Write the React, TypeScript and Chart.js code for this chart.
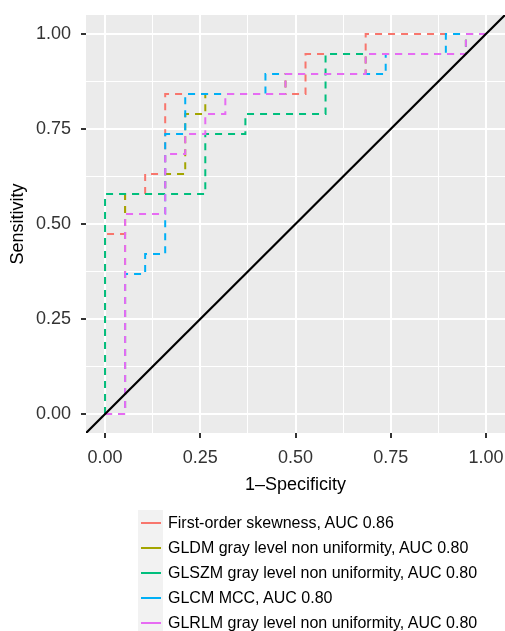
import React, { useEffect, useRef } from 'react';
import { Chart, registerables } from 'chart.js';

Chart.register(...registerables);

// ---- data -------------------------------------------------------------
const seriesNames = [
  'First-order skewness, AUC 0.86',
  'GLDM gray level non uniformity, AUC 0.80',
  'GLSZM gray level non uniformity, AUC 0.80',
  'GLCM MCC, AUC 0.80',
  'GLRLM gray level non uniformity, AUC 0.80',
];
const seriesColors = ['#F8766D', '#A3A500', '#00BF7D', '#00B0F6', '#E76BF3'];

// ROC curve vertices (1 - specificity, sensitivity)
const skewFpr = [0, 0, 0.0526, 0.0526, 0.1053, 0.1053, 0.1579, 0.1579, 0.5263, 0.5263, 0.6842, 0.6842, 1];
const skewTpr = [0, 0.4737, 0.4737, 0.5789, 0.5789, 0.6316, 0.6316, 0.8421, 0.8421, 0.9474, 0.9474, 1, 1];

const gldmFpr = [0, 0.0526, 0.0526, 0.1579, 0.1579, 0.2105, 0.2105, 0.2632, 0.2632, 0.4737, 0.4737, 0.6842, 0.6842, 0.9474, 0.9474, 1];
const gldmTpr = [0, 0, 0.5789, 0.5789, 0.6316, 0.6316, 0.7895, 0.7895, 0.8421, 0.8421, 0.8947, 0.8947, 0.9474, 0.9474, 1, 1];

const glszmFpr = [0, 0, 0.2632, 0.2632, 0.3684, 0.3684, 0.5789, 0.5789, 0.9474, 0.9474, 1];
const glszmTpr = [0, 0.5789, 0.5789, 0.7368, 0.7368, 0.7895, 0.7895, 0.9474, 0.9474, 1, 1];

const glcmFpr = [0, 0.0526, 0.0526, 0.1053, 0.1053, 0.1579, 0.1579, 0.2105, 0.2105, 0.4211, 0.4211, 0.7368, 0.7368, 0.8947, 0.8947, 1];
const glcmTpr = [0, 0, 0.3684, 0.3684, 0.4211, 0.4211, 0.7368, 0.7368, 0.8421, 0.8421, 0.8947, 0.8947, 0.9474, 0.9474, 1, 1];

const glrlmFpr = [0, 0.0526, 0.0526, 0.1579, 0.1579, 0.2105, 0.2105, 0.2632, 0.2632, 0.3158, 0.3158, 0.4737, 0.4737, 0.6842, 0.6842, 0.9474, 0.9474, 1];
const glrlmTpr = [0, 0, 0.5263, 0.5263, 0.6842, 0.6842, 0.7368, 0.7368, 0.7895, 0.7895, 0.8421, 0.8421, 0.8947, 0.8947, 0.9474, 0.9474, 1, 1];

const seriesFpr = [skewFpr, gldmFpr, glszmFpr, glcmFpr, glrlmFpr];
const seriesTpr = [skewTpr, gldmTpr, glszmTpr, glcmTpr, glrlmTpr];

// reference diagonal
const diagonalX = [-0.05, 1.05];
const diagonalY = [-0.05, 1.05];

// axes
const axisMin = -0.05;
const axisMax = 1.05;
const majorTicks = [0, 0.25, 0.5, 0.75, 1];
const majorTickLabels = ['0.00', '0.25', '0.50', '0.75', '1.00'];
const minorTicks = [0.125, 0.375, 0.625, 0.875];
const xTitle = '1\u2013Specificity';
const yTitle = 'Sensitivity';

// ---- helpers ----------------------------------------------------------
const FONT = "'Liberation Sans', Arial, Helvetica, sans-serif";
const majorIndex = (v: number) => majorTicks.findIndex((m) => Math.abs(m - v) < 1e-9);
const isMajor = (ctx: any) => !!ctx && !!ctx.tick && majorIndex(ctx.tick.value) >= 0;

const makeScale = (axis: 'x' | 'y') => ({
  type: 'linear' as const,
  position: axis === 'x' ? ('bottom' as const) : ('left' as const),
  min: axisMin,
  max: axisMax,
  afterBuildTicks: (s: any) => {
    s.ticks = [...majorTicks, ...minorTicks].sort((a, b) => a - b).map((v) => ({ value: v }));
  },
  afterFit: (s: any) => {
    if (axis === 'x') {
      s.height = 66;
      s.paddingLeft = 0;
      s.paddingRight = 0;
    } else {
      s.width = 86;
      s.paddingTop = 0;
      s.paddingBottom = 0;
    }
  },
  border: { display: false },
  grid: {
    color: '#FFFFFF',
    lineWidth: (ctx: any) => (isMajor(ctx) ? 2 : 1),
    drawTicks: true,
    tickLength: 5,
    tickWidth: 2,
    tickColor: (ctx: any) => (isMajor(ctx) ? '#333333' : 'rgba(0,0,0,0)'),
  },
  ticks: {
    autoSkip: false,
    maxRotation: 0,
    minRotation: 0,
    padding: axis === 'x' ? 9 : 10,
    color: '#333333',
    font: { family: FONT, size: 18 },
    callback: (v: any) => {
      const i = majorIndex(Number(v));
      return i >= 0 ? majorTickLabels[i] : '';
    },
  },
  title: {
    display: true,
    text: axis === 'x' ? xTitle : yTitle,
    color: '#000000',
    font: { family: FONT, size: 18 },
    padding: axis === 'x' ? { top: 0, bottom: 3 } : { top: 7, bottom: 0 },
  },
});

const panelBackground = {
  id: 'panelBackground',
  beforeDraw(chart: any) {
    const { ctx, chartArea } = chart;
    ctx.save();
    ctx.fillStyle = '#EBEBEB';
    ctx.fillRect(chartArea.left, chartArea.top, chartArea.right - chartArea.left, chartArea.bottom - chartArea.top);
    ctx.restore();
  },
};

export default function App() {
  const canvasRef = useRef<HTMLCanvasElement>(null);

  useEffect(() => {
    if (!canvasRef.current) return;
    const datasets: any[] = seriesNames.map((name, i) => ({
      label: name,
      data: seriesFpr[i].map((x, j) => ({ x, y: seriesTpr[i][j] })),
      borderColor: seriesColors[i],
      backgroundColor: seriesColors[i],
      borderWidth: 2,
      borderDash: [7, 6],
      borderCapStyle: 'butt',
      pointRadius: 0,
      tension: 0,
      fill: false,
      order: seriesNames.length - i,
    }));
    datasets.push({
      label: 'diagonal',
      data: diagonalX.map((x, j) => ({ x, y: diagonalY[j] })),
      borderColor: '#000000',
      borderWidth: 2.2,
      pointRadius: 0,
      tension: 0,
      fill: false,
      order: 0,
    });

    const chart = new Chart(canvasRef.current, {
      type: 'line',
      data: { datasets },
      options: {
        animation: false,
        responsive: false,
        devicePixelRatio: 1,
        parsing: true,
        layout: { padding: { top: 15, right: 0, bottom: 132, left: 0 } },
        plugins: {
          legend: { display: false },
          tooltip: { enabled: false },
        },
        scales: {
          x: makeScale('x') as any,
          y: makeScale('y') as any,
        },
      },
      plugins: [panelBackground],
    });
    return () => chart.destroy();
  }, []);

  return (
    <div style={{ position: 'absolute', left: 0, top: 0, width: 505, height: 631, background: '#FFFFFF', overflow: 'hidden' }}>
      <canvas ref={canvasRef} width={505} height={631} style={{ position: 'absolute', left: 0, top: 0, display: 'block' }} />
      <div style={{ position: 'absolute', left: 138, top: 510 }}>
        {seriesNames.map((name, i) => (
          <div key={name} style={{ display: 'flex', alignItems: 'center', height: 25 }}>
            <div style={{ width: 25, height: 25, background: '#F2F2F2', position: 'relative', flex: '0 0 auto' }}>
              <div style={{ position: 'absolute', left: 3, top: 12, width: 20, height: 2, background: seriesColors[i] }} />
            </div>
            <span
              style={{
                marginLeft: 5,
                fontFamily: FONT,
                fontSize: 16,
                lineHeight: '25px',
                color: '#000000',
                whiteSpace: 'nowrap',
              }}
            >
              {name}
            </span>
          </div>
        ))}
      </div>
    </div>
  );
}
